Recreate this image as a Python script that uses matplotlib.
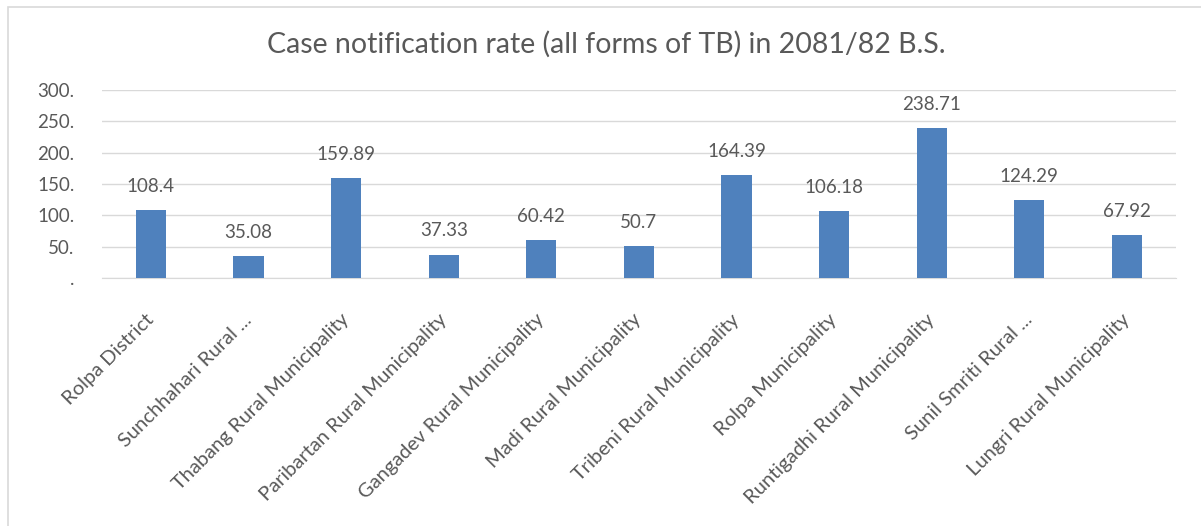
import matplotlib.pyplot as plt
from matplotlib.patches import Rectangle

# data
places = ["Rolpa District", "Sunchhahari Rural ...", "Thabang Rural Municipality",
          "Paribartan Rural Municipality", "Gangadev Rural Municipality",
          "Madi Rural Municipality", "Tribeni Rural Municipality", "Rolpa Municipality",
          "Runtigadhi Rural Municipality", "Sunil Smriti Rural ...",
          "Lungri Rural Municipality"]
rates = [108.4, 35.08, 159.89, 37.33, 60.42, 50.7, 164.39, 106.18, 238.71, 124.29, 67.92]
labels = ["108.4", "35.08", "159.89", "37.33", "60.42", "50.7", "164.39", "106.18",
          "238.71", "124.29", "67.92"]
yticks = [0, 50, 100, 150, 200, 250, 300]
ytick_labels = [".", "50.", "100.", "150.", "200.", "250.", "300."]

plt.rcParams['font.family'] = ['Lato', 'DejaVu Sans']
grey = "#595959"

fig = plt.figure(figsize=(12.01, 5.26), dpi=100)
ax = fig.add_axes([0.085, 0.4715, 0.894, 0.3575])

x = range(len(places))
ax.bar(x, rates, width=0.31, color="#4F81BD", zorder=3)

# value labels above the bars
for i, v in enumerate(rates):
    ax.annotate(labels[i], (i, v), xytext=(0, 17), textcoords="offset points",
                ha="center", va="center", fontsize=13.5, color=grey)

ax.set_xlim(-0.5, len(places) - 0.5)
ax.set_ylim(0, 300)
ax.set_yticks(yticks)
ax.set_yticklabels(ytick_labels, fontsize=13.5, color=grey)
ax.set_xticks(list(x))
ax.set_xticklabels(places, rotation=45, ha="right", va="center", rotation_mode="anchor",
                   fontsize=14.5, color=grey)
ax.tick_params(axis="both", length=0)
ax.tick_params(axis="y", pad=20)
ax.tick_params(axis="x", pad=28)

ax.grid(axis="y", color="#D9D9D9", linewidth=1, zorder=0)
for s in ["top", "right", "left"]:
    ax.spines[s].set_visible(False)
ax.spines["bottom"].set_color("#D9D9D9")

fig.text(0.505, 0.916, "Case notification rate (all forms of TB) in 2081/82 B.S.",
         ha="center", va="center", fontsize=20.5, color=grey)

# chart border (only left and top edges are visible in the crop)
fig.patches.append(Rectangle((8 / 1201, -0.1), 1.2, 1 - 7 / 526 + 0.1,
                             transform=fig.transFigure, fill=False,
                             edgecolor="#D9D9D9", linewidth=1.2))

fig.savefig("out.png", dpi=100)
